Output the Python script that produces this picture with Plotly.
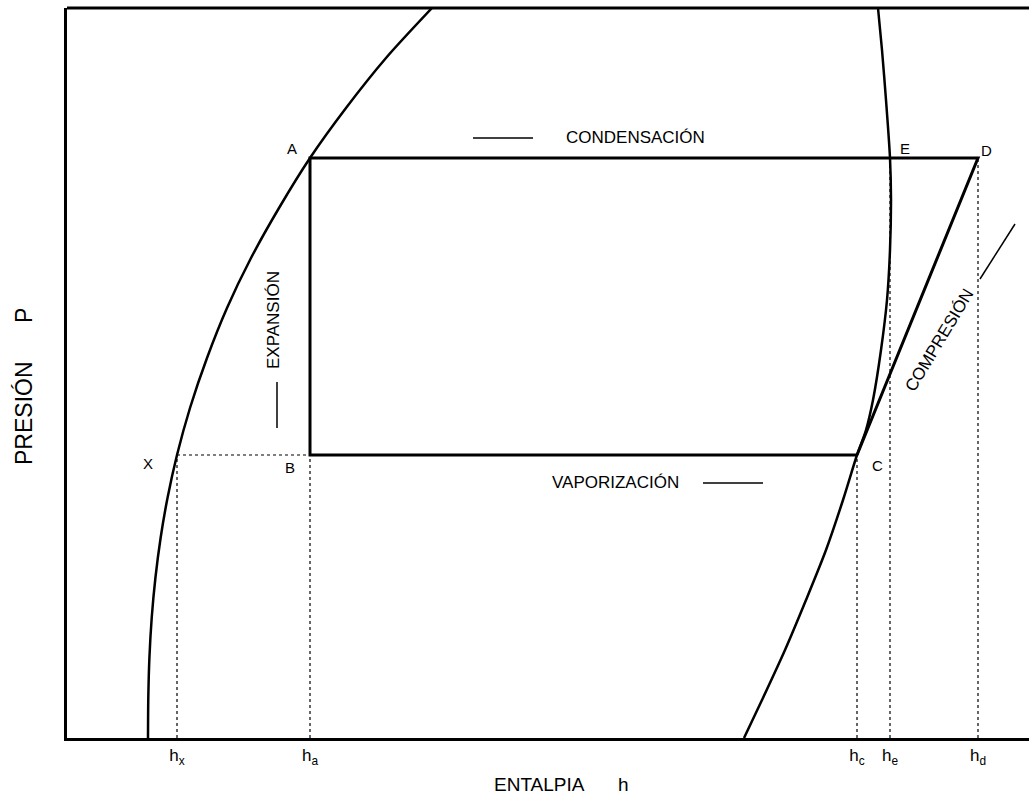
import plotly.graph_objects as go

# ---- data (enthalpy h, pressure P in arbitrary diagram units) ----
liq_P = [0, 40, 80, 120, 160, 200, 240, 283, 330, 380, 430, 480, 530, 580, 630, 680, 730]
liq_h = [81, 81.3, 82.4, 84.7, 88.4, 93.6, 100.5, 110, 123, 140, 160, 184, 212, 243, 279, 319, 365]

vap_P = [730, 688, 638, 580, 538, 488, 438, 388, 338, 308, 283, 238, 188, 138, 88, 38, 0]
vap_h = [811, 815, 819, 823, 824, 823, 820, 814, 806, 799, 790, 776, 759, 739, 718, 695, 677]

P_low = 283
P_high = 580
h_x, h_a, h_c, h_e, h_d = 110, 243, 790, 823, 911

tick_vals = [h_x, h_a, h_c, h_e, h_d]
tick_text = ["h<sub>x</sub>", "h<sub>a</sub>", "h<sub>c</sub>", "h<sub>e</sub>", "h<sub>d</sub>"]

X_MAX = 962
Y_MAX = 730

FONT = "Liberation Sans, Arial, sans-serif"

fig = go.Figure()

# saturation curves
fig.add_trace(go.Scatter(x=liq_h, y=liq_P, mode="lines",
                         line=dict(color="black", width=2.5, shape="spline", smoothing=0.8), hoverinfo="skip"))
fig.add_trace(go.Scatter(x=vap_h, y=vap_P, mode="lines",
                         line=dict(color="black", width=2.5, shape="spline", smoothing=0.8), hoverinfo="skip"))

# cycle: C -> D -> A -> B -> C
fig.add_trace(go.Scatter(x=[h_c, h_d, h_a, h_a, h_c], y=[P_low, P_high, P_high, P_low, P_low], mode="lines",
                         line=dict(color="black", width=3), hoverinfo="skip"))

# dotted guides
dot = dict(color="black", width=1.2, dash="dot")
fig.add_trace(go.Scatter(x=[h_x, h_a], y=[P_low, P_low], mode="lines", line=dot, hoverinfo="skip"))
for hv, pv in [(h_x, P_low), (h_a, P_low), (h_c, P_low), (h_e, P_high), (h_d, P_high)]:
    fig.add_trace(go.Scatter(x=[hv, hv], y=[0, pv], mode="lines", line=dot, hoverinfo="skip"))

# direction marks (short plain strokes)
thin = dict(color="black", width=1.5)
fig.add_trace(go.Scatter(x=[406, 466], y=[600, 600], mode="lines", line=thin, hoverinfo="skip"))
fig.add_trace(go.Scatter(x=[636, 696], y=[255, 255], mode="lines", line=thin, hoverinfo="skip"))
fig.add_trace(go.Scatter(x=[210, 210], y=[356, 310], mode="lines", line=thin, hoverinfo="skip"))
fig.add_trace(go.Scatter(x=[913, 948], y=[459, 514], mode="lines", line=thin, hoverinfo="skip"))

ann = []
def lab(x, y, t, size=15, angle=0):
    ann.append(dict(x=x, y=y, xref="x", yref="y", text=t, showarrow=False, textangle=angle,
                    font=dict(family=FONT, size=size, color="black")))

lab(225, 590, "A")
lab(838, 590, "E")
lab(919, 588, "D")
lab(81, 275, "X")
lab(223, 271, "B")
lab(810, 273, "C")
lab(568, 601, "CONDENSACIÓN", size=17)
lab(548, 256, "VAPORIZACIÓN", size=17)
lab(206, 418, "EXPANSIÓN", size=17, angle=-90)
lab(872, 398, "COMPRESIÓN", size=17, angle=-59)

# axis titles
def title(px, py, t, size, angle=0):
    ann.append(dict(x=(px - 67) / X_MAX, y=(738 - py) / Y_MAX, xref="paper", yref="paper",
                    xanchor="center", yanchor="middle", text=t, showarrow=False, textangle=angle,
                    font=dict(family=FONT, size=size, color="black")))

title(539, 785, "ENTALPIA", 19)
title(623, 784, "h", 19)
title(24, 413, "PRESIÓN", 23, angle=-90)
title(24, 316, "P", 23, angle=-90)

fig.update_layout(
    width=1029, height=799,
    margin=dict(l=67, r=0, t=8, b=61),
    paper_bgcolor="white", plot_bgcolor="white",
    showlegend=False,
    annotations=ann,
    shapes=[
        dict(type="line", xref="paper", yref="paper", x0=0, x1=1, y0=1, y1=1, line=dict(color="black", width=3)),
    ],
    xaxis=dict(range=[0, X_MAX], showgrid=False, zeroline=False, showline=True, linecolor="black", linewidth=3,
               tickmode="array", tickvals=tick_vals, ticktext=tick_text, ticks="",
               tickfont=dict(family=FONT, size=17, color="black"), fixedrange=True),
    yaxis=dict(range=[0, Y_MAX], showgrid=False, zeroline=False, showline=True, linecolor="black", linewidth=3,
               showticklabels=False, ticks="", fixedrange=True),
)

fig.write_html("out.html", config={"displayModeBar": False},
               post_script="document.body.style.margin='0';document.body.style.overflow='hidden';")
